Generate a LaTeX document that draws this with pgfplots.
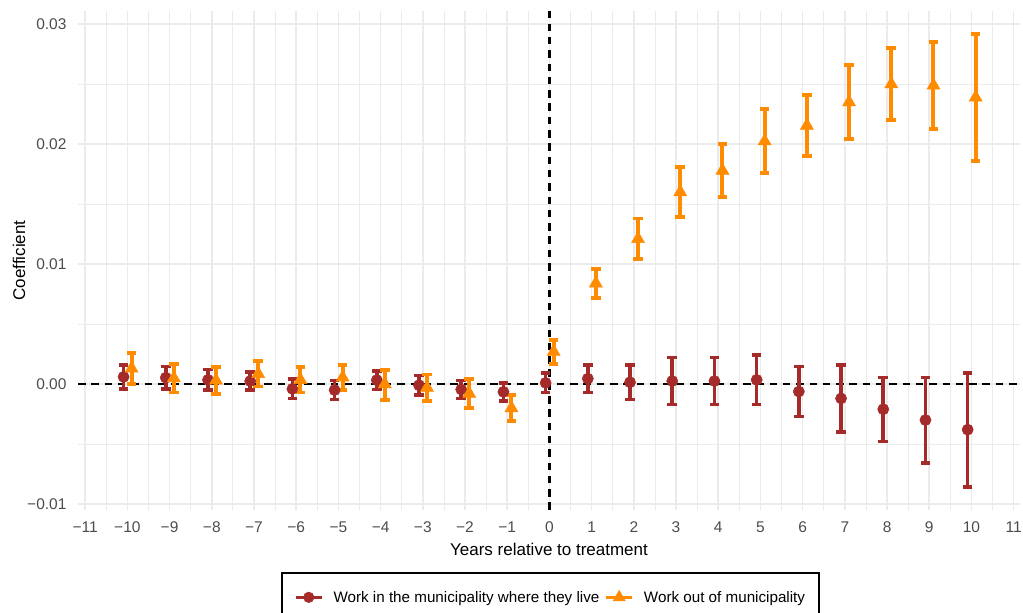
\documentclass[border=0pt]{standalone}
\usepackage{fontspec}
\setmainfont{Liberation Sans}
\usepackage{pgfplots}
\usepackage{pgfplotstable}
\pgfplotsset{compat=1.18}
\definecolor{cred}{HTML}{A52A2A}
\definecolor{corg}{HTML}{FF8C00}
\definecolor{gmaj}{HTML}{EBEBEB}

\pgfplotstableread{
x y lo hi
-10 0.0006 -0.0004 0.0016
-9 0.00053 -0.0004 0.00145
-8 0.00035 -0.0005 0.0012
-7 0.00025 -0.0005 0.0010
-6 -0.0004 -0.0012 0.0004
-5 -0.0005 -0.0013 0.0003
-4 0.00033 -0.00045 0.0011
-3 -0.0001 -0.0009 0.0007
-2 -0.00045 -0.0012 0.0003
-1 -0.00065 -0.0014 0.0001
0 0.0001 -0.0007 0.0009
1 0.00045 -0.0007 0.0016
2 0.00015 -0.0013 0.0016
3 0.00025 -0.0017 0.0022
4 0.00025 -0.0017 0.0022
5 0.00035 -0.0017 0.0024
6 -0.000625 -0.0027 0.00145
7 -0.0012 -0.0040 0.0016
8 -0.0021 -0.0048 0.00056
9 -0.0030 -0.0066 0.00056
10 -0.0038 -0.0086 0.00094
}\redtab

\pgfplotstableread{
x y lo hi
-10 0.0013 0.0000 0.0026
-9 0.0005 -0.0007 0.0017
-8 0.0003 -0.0008 0.00145
-7 0.00085 -0.0002 0.0019
-6 0.00035 -0.0007 0.0014
-5 0.00055 -0.0005 0.0016
-4 0.0000 -0.0013 0.0012
-3 -0.0003 -0.0014 0.0008
-2 -0.0008 -0.0020 0.0004
-1 -0.0020 -0.0031 -0.0009
0 0.0027 0.0017 0.0037
1 0.0084 0.0072 0.0096
2 0.0121 0.0104 0.0138
3 0.0160 0.0139 0.0181
4 0.0178 0.0156 0.0200
5 0.02025 0.0176 0.0229
6 0.02155 0.0190 0.0241
7 0.0235 0.0204 0.0266
8 0.0250 0.0220 0.0280
9 0.0249 0.02125 0.0285
10 0.0239 0.0186 0.0292
}\orgtab

\begin{document}
\begin{tikzpicture}[x=1pt,y=1pt]
\begin{axis}[
  at={(78pt,103pt)}, anchor=south west,
  scale only axis, width=942pt, height=499pt,
  xmin=-11.17, xmax=11.15, ymin=-0.0105, ymax=0.0311,
  axis line style={draw=none},
  major tick length=0pt, minor tick length=0pt,
  xtick={-11,-10,-9,-8,-7,-6,-5,-4,-3,-2,-1,0,1,2,3,4,5,6,7,8,9,10,11},
  xticklabels={−11,−10,−9,−8,−7,−6,−5,−4,−3,−2,−1,0,1,2,3,4,5,6,7,8,9,10,11},
  minor xtick={-10.5,-9.5,-8.5,-7.5,-6.5,-5.5,-4.5,-3.5,-2.5,-1.5,-0.5,0.5,1.5,2.5,3.5,4.5,5.5,6.5,7.5,8.5,9.5,10.5},
  ytick={-0.01,0,0.01,0.02,0.03},
  yticklabels={−0.01,0.00,0.01,0.02,0.03},
  minor ytick={-0.005,0.005,0.015,0.025},
  scaled y ticks=false,
  grid=both,
  major grid style={draw=gmaj, line width=1.6pt},
  minor grid style={draw=gmaj, line width=0.8pt},
  ticklabel style={font=\fontsize{15.5}{18}\selectfont, text=black!70},
  xticklabel style={anchor=north, yshift=-8pt},
  yticklabel style={anchor=east, xshift=-8pt},
  xlabel={Years relative to treatment},
  ylabel={Coefficient},
  label style={font=\fontsize{17}{20}\selectfont, text=black},
  xlabel style={at={(axis description cs:0.5,-0.0782)}, anchor=center},
  ylabel style={at={(axis description cs:-0.0626,0.5)}, anchor=center},
  legend image code/.code={\draw[mark repeat=2,mark phase=2,#1] plot coordinates {(0pt,0pt) (13pt,0pt) (26pt,0pt)};},
  legend style={at={(axis description cs:0.5016,-0.1242)}, anchor=north,
    draw=black, line width=2.2pt, fill=white,
    font=\fontsize{15.2}{18}\selectfont, inner xsep=12pt, inner ysep=16pt,
    /tikz/every odd column/.append style={column sep=8pt},
    /tikz/every even column/.append style={column sep=3pt}},
  legend columns=2,
  legend cell align=left,
]
\addplot[black, line width=2.2pt, dash pattern=on 7.5pt off 5.8pt, forget plot] coordinates {(-11.17,0) (11.15,0)};
\addplot[black, line width=2.2pt, dash pattern=on 7.5pt off 5.8pt, forget plot] coordinates {(0,-0.0105) (0,0.0311)};

\addplot[only marks, line width=3.6pt, mark=*, color=cred, mark size=5.6pt, mark options={solid, fill=cred, line width=0.5pt}, forget plot,
  error bars/.cd, y dir=both, y explicit,
  error bar style={line width=3.6pt, solid},
  error mark options={rotate=90, mark size=4.8pt, line width=3.6pt}]
  table[x expr=\thisrow{x}-0.09, y=y, y error plus expr=\thisrow{hi}-\thisrow{y}, y error minus expr=\thisrow{y}-\thisrow{lo}] {\redtab};

\addplot[only marks, line width=4pt, mark=triangle*, color=corg, mark size=7.5pt, mark options={solid, fill=corg, line width=0.5pt}, forget plot,
  error bars/.cd, y dir=both, y explicit,
  error bar style={line width=4pt, solid},
  error mark options={rotate=90, mark size=4.8pt, line width=3.8pt}]
  table[x expr=\thisrow{x}+0.1, y=y, y error plus expr=\thisrow{hi}-\thisrow{y}, y error minus expr=\thisrow{y}-\thisrow{lo}] {\orgtab};

\addlegendimage{cred, line width=3.6pt, mark=*, mark size=5.3pt, mark options={solid, fill=cred, line width=0.5pt}}
\addlegendentry{Work in the municipality where they live}
\addlegendimage{corg, line width=3.6pt, mark=triangle*, mark size=7pt, mark options={solid, fill=corg, line width=0.5pt}}
\addlegendentry{Work out of municipality}
\end{axis}
\pgfresetboundingbox
\path (0,0) rectangle (1023pt,613pt);
\end{tikzpicture}
\end{document}
